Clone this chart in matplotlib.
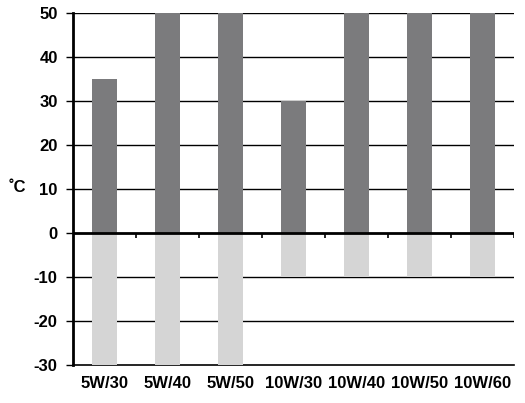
import matplotlib.pyplot as plt
import numpy as np

# --- data ---
grades = ['5W/30', '5W/40', '5W/50', '10W/30', '10W/40', '10W/50', '10W/60']
upper_temp = [35, 50, 50, 30, 50, 50, 50]
lower_temp = [-30, -30, -30, -10, -10, -10, -10]

plt.rcParams['font.family'] = ['Liberation Sans', 'DejaVu Sans']
plt.rcParams['axes.unicode_minus'] = False

fig = plt.figure(figsize=(5.25, 4.03), dpi=100)
ax = fig.add_axes([0.139, 0.094, 0.840, 0.874])

x = np.arange(len(grades))
ax.bar(x, upper_temp, width=0.41, color='#7b7b7d', zorder=3)
ax.bar(x, lower_temp, width=0.41, color='#d5d5d5', zorder=3)

ax.set_xlim(-0.5, len(grades) - 0.5)
ax.set_ylim(-30, 50)
ax.set_yticks(range(-30, 51, 10))

# horizontal grid
for v in range(-20, 51, 10):
    if v != 0:
        ax.axhline(v, color='black', lw=1.0, zorder=1)
ax.axhline(0, color='black', lw=2.0, zorder=4)
# small marks on the zero line between categories
ax.vlines(np.arange(len(grades) + 1) - 0.5, -1.2, 0, color='black', lw=1.2, zorder=4)

ax.set_xticks(x)
ax.set_xticklabels(grades, fontsize=12, fontweight='bold')
ax.tick_params(axis='x', length=0, pad=8)
ax.tick_params(axis='y', length=5, width=1, labelsize=12, pad=6)
for lab in ax.get_yticklabels():
    lab.set_fontweight('bold')

for s in ['top', 'right']:
    ax.spines[s].set_visible(False)
ax.spines['left'].set_linewidth(2)
ax.spines['bottom'].set_linewidth(1.2)

ax.set_ylabel('˚C', rotation=0, fontsize=12, fontweight='bold', va='center', ha='center')
ax.yaxis.set_label_coords(-0.125, 0.503)

fig.savefig('out.png', dpi=100)
